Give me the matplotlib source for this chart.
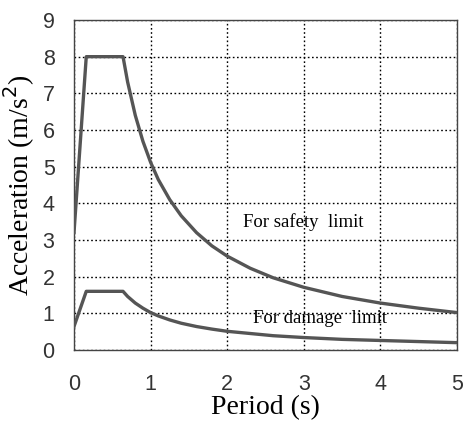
import matplotlib
matplotlib.use("Agg")
import matplotlib.pyplot as plt

# Safety limit spectrum
period_safety = [0.0, 0.16, 0.64, 0.7, 0.8, 0.9, 1.0, 1.1, 1.25, 1.4, 1.6, 1.8, 2.0, 2.3, 2.6, 3.0, 3.5, 4.0, 4.5, 5.0]
accel_safety = [3.2, 8.0, 8.0, 7.31, 6.4, 5.69, 5.12, 4.65, 4.10, 3.66, 3.2, 2.84, 2.56, 2.23, 1.97, 1.71, 1.46, 1.28, 1.14, 1.02]

# Damage limit spectrum
period_damage = [0.0, 0.16, 0.64, 0.7, 0.8, 0.9, 1.0, 1.1, 1.25, 1.4, 1.6, 1.8, 2.0, 2.3, 2.6, 3.0, 3.5, 4.0, 4.5, 5.0]
accel_damage = [0.64, 1.6, 1.6, 1.46, 1.28, 1.14, 1.02, 0.93, 0.82, 0.73, 0.64, 0.57, 0.51, 0.45, 0.39, 0.34, 0.29, 0.26, 0.23, 0.20]

x_ticks = [0, 1, 2, 3, 4, 5]
y_ticks = [0, 1, 2, 3, 4, 5, 6, 7, 8, 9]

fig = plt.figure(figsize=(4.63, 4.29), dpi=100)
ax = fig.add_axes([74/463, 1 - 350/429, (457-74)/463, (350-20)/429])

line_color = "#555555"
ax.plot(period_safety, accel_safety, color=line_color, lw=2.4, solid_joinstyle="round", zorder=3)
ax.plot(period_damage, accel_damage, color=line_color, lw=2.4, solid_joinstyle="round", zorder=3)

ax.set_xlim(0, 5)
ax.set_ylim(0, 9)
ax.set_xticks(x_ticks)
ax.set_yticks(y_ticks)
ax.grid(True, color="black", linestyle=(0, (1.2, 1.8)), linewidth=1.0)
ax.tick_params(length=0, labelsize=15.5, labelcolor="#333333")
ax.tick_params(axis="x", pad=17)
ax.tick_params(axis="y", pad=14)
for lab in ax.get_xticklabels() + ax.get_yticklabels():
    lab.set_family("Liberation Sans")
for s in ax.spines.values():
    s.set_color("#444444")
    s.set_linewidth(1.0)

serif = "Liberation Serif"
ax.set_xlabel("Period (s)", family=serif, fontsize=20, labelpad=0)
ax.set_ylabel("Acceleration (m/s$^2$)", family=serif, fontsize=20, labelpad=4)
ax.text(2.2, 3.5, "For safety  limit", family=serif, fontsize=13.5, va="center", ha="left")
ax.text(2.34, 0.87, "For damage  limit", family=serif, fontsize=13.5, va="center", ha="left")

fig.savefig("out.png", dpi=100)
